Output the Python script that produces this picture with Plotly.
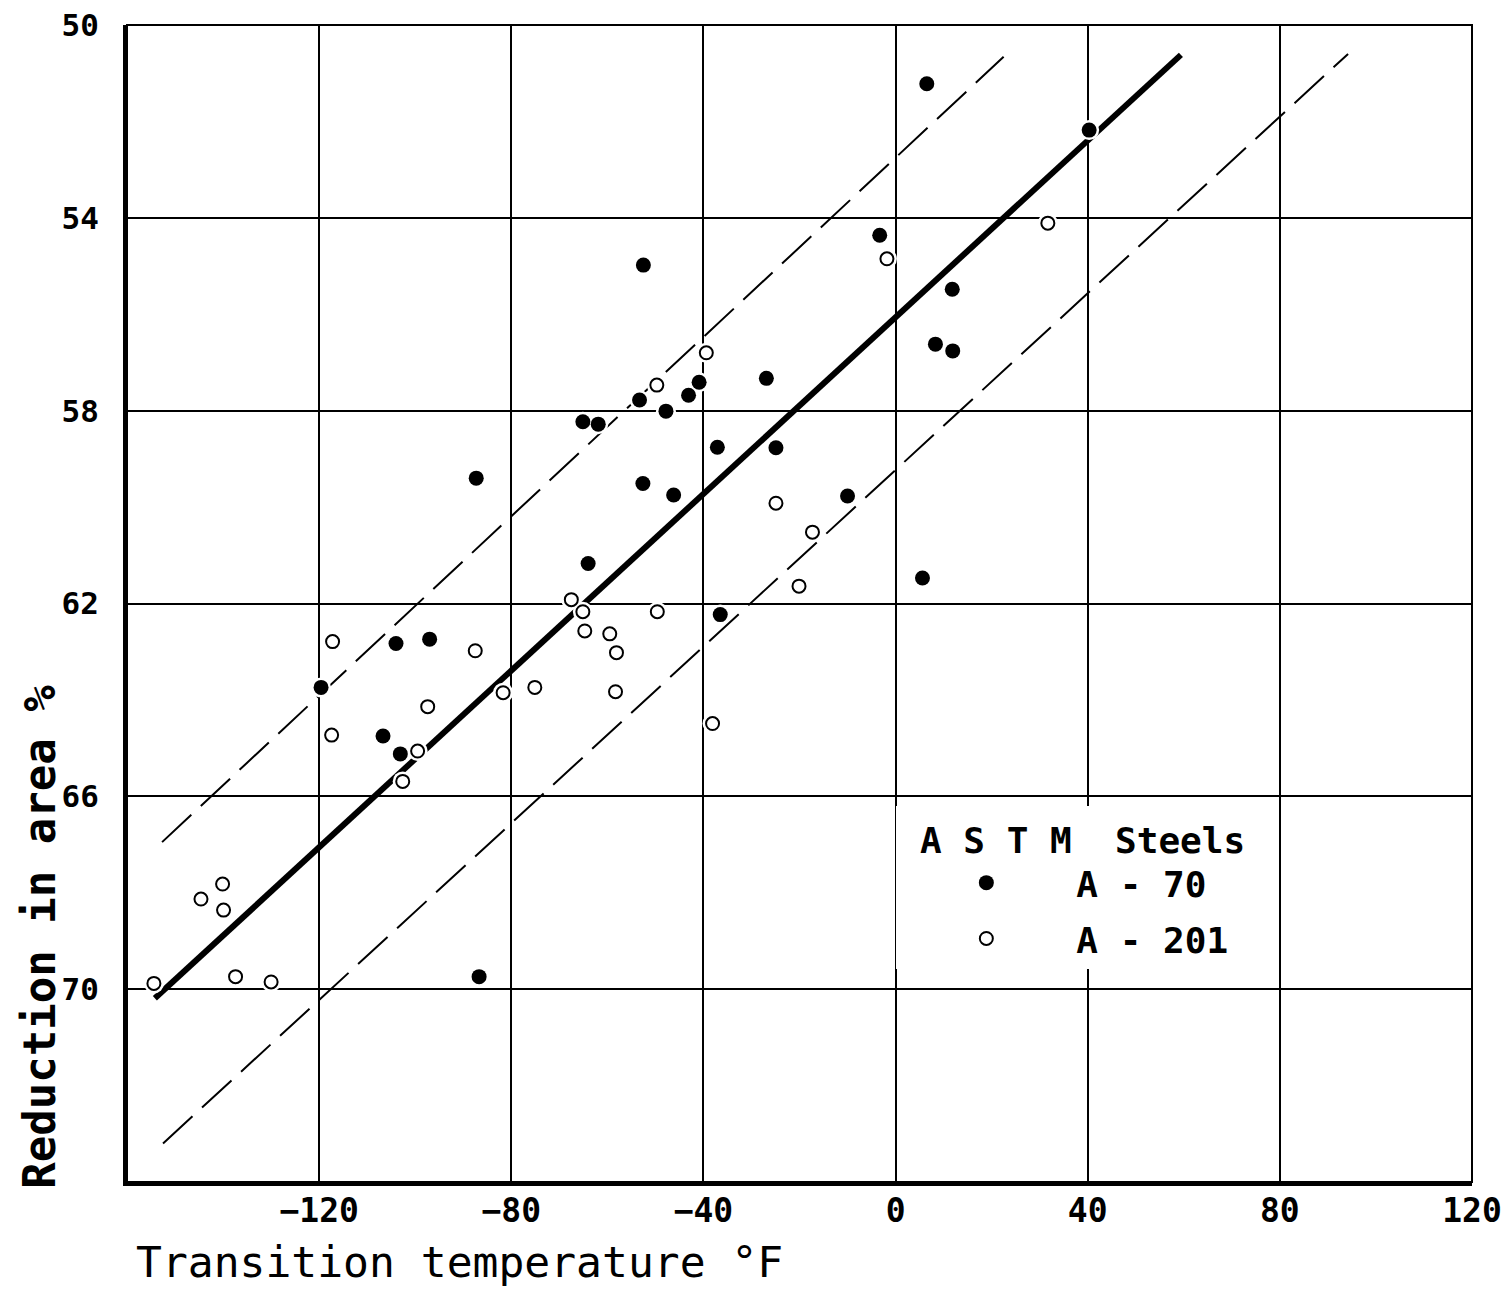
import plotly.graph_objects as go

# ASTM A-70 steels (filled symbols): transition temperature (deg F) vs reduction in area (%)
a70_temp = [6.5, 40.3, -3.3, -52.5, 11.8, 8.3, 11.9, -26.9, -40.9, -43.1,
            -53.3, -47.8, -65.1, -61.9, -37.1, -24.9, -87.3, -52.6, -46.2, -10.0,
            -64.0, 5.6, -36.5, -97.0, -104.0, -119.6, -106.7, -103.1, -86.7]
a70_ra = [51.22, 52.18, 54.36, 54.98, 55.48, 56.62, 56.76, 57.33, 57.41, 57.68,
          57.78, 58.01, 58.23, 58.28, 58.76, 58.77, 59.40, 59.51, 59.75, 59.77,
          61.17, 61.47, 62.23, 62.74, 62.83, 63.74, 64.75, 65.12, 69.74]

# ASTM A-201 steels (open symbols)
a201_temp = [31.7, -1.8, -39.4, -49.7, -24.9, -17.3, -20.1, -67.5, -65.1, -49.6,
             -64.7, -59.5, -117.2, -87.5, -58.1, -75.1, -81.7, -58.3, -97.4, -38.1,
             -117.4, -99.5, -102.6, -140.1, -144.6, -139.9, -137.4, -130.0, -154.4]
a201_ra = [54.11, 54.85, 56.80, 57.47, 59.92, 60.52, 61.64, 61.92, 62.17, 62.17,
           62.57, 62.63, 62.79, 62.98, 63.02, 63.74, 63.85, 63.83, 64.14, 64.49,
           64.73, 65.06, 65.69, 67.82, 68.13, 68.36, 69.74, 69.85, 69.88]

# mean trend line and the upper / lower scatter-band limits (end points)
trend_temp = [-154.2, 59.4]
trend_ra = [70.19, 50.62]
band_hi_temp = [-152.7, 22.5]
band_hi_ra = [66.95, 50.66]
band_lo_temp = [-152.5, 94.2]
band_lo_ra = [73.20, 50.60]

x_ticks = [-120, -80, -40, 0, 40, 80, 120]
y_ticks = [50, 54, 58, 62, 66, 70]

MONO = "DejaVu Sans Mono"

fig = go.Figure()

band_line = dict(color="black", width=2, dash="40px,13px")
fig.add_trace(go.Scatter(x=band_hi_temp, y=band_hi_ra, mode="lines", line=band_line,
                         showlegend=False, hoverinfo="skip"))
fig.add_trace(go.Scatter(x=band_lo_temp, y=band_lo_ra, mode="lines", line=band_line,
                         showlegend=False, hoverinfo="skip"))
fig.add_trace(go.Scatter(x=trend_temp, y=trend_ra, mode="lines",
                         line=dict(color="black", width=6),
                         showlegend=False, hoverinfo="skip"))

# white halo under every symbol so the lines break around them
fig.add_trace(go.Scatter(x=a70_temp + a201_temp, y=a70_ra + a201_ra, mode="markers",
                         marker=dict(symbol="circle", size=20, color="white",
                                     line=dict(width=0)),
                         showlegend=False, hoverinfo="skip"))

fig.add_trace(go.Scatter(x=a70_temp, y=a70_ra, mode="markers", name="A - 70",
                         legendgroup="a70",
                         marker=dict(symbol="circle", size=15, color="black",
                                     line=dict(width=0))))
fig.add_trace(go.Scatter(x=a201_temp, y=a201_ra, mode="markers", name="A - 201",
                         legendgroup="a201",
                         marker=dict(symbol="circle", size=13, color="white",
                                     line=dict(width=2, color="black"))))

fig.update_layout(
    width=1503, height=1291,
    margin=dict(l=127, r=31, t=25, b=109),
    paper_bgcolor="white", plot_bgcolor="white",
    hovermode=False,
    xaxis=dict(range=[-160, 120], tickvals=x_ticks, ticks="", automargin=False,
               showgrid=True, gridcolor="black", gridwidth=1.6, zeroline=False,
               showline=True, linecolor="black", linewidth=4,
               ticklabelstandoff=-4, ticklabeloverflow="allow",
               tickfont=dict(family=MONO, size=33, color="black", weight="bold")),
    yaxis=dict(range=[74, 50], tickvals=y_ticks, ticks="", automargin=False,
               showgrid=True, gridcolor="black", gridwidth=1.6, zeroline=False,
               showline=True, linecolor="black", linewidth=4,
               ticklabelstandoff=18, ticklabeloverflow="allow",
               tickfont=dict(family=MONO, size=31, color="black", weight="bold")),
    legend=dict(x=0.572, y=0.325, xanchor="left", yanchor="top",
                bgcolor="white", borderwidth=0, itemwidth=170,
                traceorder="grouped", tracegroupgap=6,
                title=dict(text="\u00a0A S T M  Steels",
                           font=dict(family=MONO, size=36, color="black", weight="bold")),
                font=dict(family=MONO, size=36, color="black", weight="bold")),
    shapes=[dict(type="rect", xref="x domain", yref="y domain",
                 x0=0, x1=1, y0=0, y1=1, line=dict(color="black", width=2),
                 layer="below")],
    annotations=[
        dict(text="Reduction in area %", xref="paper", yref="paper",
             x=-0.0647, y=0.212, xanchor="center", yanchor="middle",
             textangle=-90, showarrow=False,
             font=dict(family=MONO, size=44, color="black", weight="bold")),
        dict(text="Transition temperature °F", xref="paper", yref="paper",
             x=0.247, y=-0.069, xanchor="center", yanchor="middle",
             showarrow=False,
             font=dict(family=MONO, size=43, color="black")),
    ],
)

fig.write_html("out.html")
